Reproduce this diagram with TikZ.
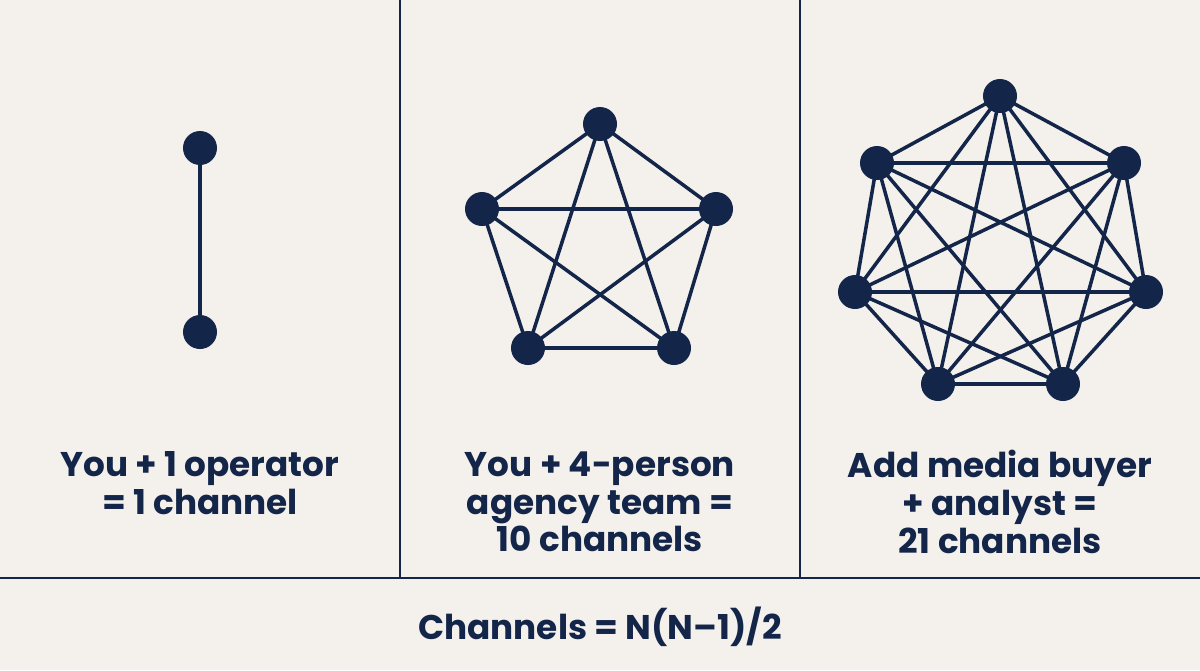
\documentclass[tikz,border=0pt]{standalone}
\usepackage{fontspec}
\setmainfont{Poppins}[BoldFont={* Bold}]
\definecolor{bg}{HTML}{F4F1EC}
\definecolor{navy}{HTML}{14254A}
\begin{document}
\begin{tikzpicture}[x=0.02cm,y=-0.02cm,
  dot/.style={circle,fill=navy,minimum size=0.68cm,inner sep=0},
  edge/.style={draw=navy,line width=2pt},
  div/.style={draw=navy,line width=1.1pt},
  lbl/.style={text=navy,font=\bfseries\fontsize{19.5}{21.5}\selectfont,align=center}]
\fill[bg] (0,0) rectangle (1200,670);
\useasboundingbox (0,0) rectangle (1200,670);
\coordinate (v1t) at (400,0); \coordinate (v1b) at (400,578);
\coordinate (v2t) at (800,0); \coordinate (v2b) at (800,578);
\coordinate (hl) at (0,578); \coordinate (hr) at (1200,578);
\draw[div] (v1t)--(v1b); \draw[div] (v2t)--(v2b); \draw[div] (hl)--(hr);
% panel 1
\coordinate (a1) at (200,148); \coordinate (a2) at (200,332);
\draw[edge] (a1)--(a2);
\node[dot] at (a1) {}; \node[dot] at (a2) {};
% panel 2
\coordinate (b1) at (600,124); \coordinate (b2) at (716,209); \coordinate (b3) at (674,348);
\coordinate (b4) at (528,348); \coordinate (b5) at (482,209);
\foreach \i/\j in {1/2,1/3,1/4,1/5,2/3,2/4,2/5,3/4,3/5,4/5} \draw[edge] (b\i)--(b\j);
\foreach \i in {1,...,5} \node[dot] at (b\i) {};
% panel 3
\coordinate (c1) at (1000,96); \coordinate (c2) at (1124,163); \coordinate (c3) at (1146,292);
\coordinate (c4) at (1063,384); \coordinate (c5) at (938,384); \coordinate (c6) at (855,292);
\coordinate (c7) at (877,163);
\foreach \i in {1,...,6}{\pgfmathtruncatemacro{\s}{\i+1}
  \foreach \j in {\s,...,7} \draw[edge] (c\i)--(c\j);}
\foreach \i in {1,...,7} \node[dot] at (c\i) {};
% labels
\node[lbl] (l1) at (200,483) {You + 1 operator\\= 1 channel};
\node[lbl] (l2) at (600,502) {You + 4-person\\agency team =\\10 channels};
\node[lbl] (l3) at (1000,502) {Add media buyer\\+ analyst =\\21 channels};
\node[lbl] (f) at (600,627) {Channels = N(N–1)/2};
\end{tikzpicture}
\end{document}
